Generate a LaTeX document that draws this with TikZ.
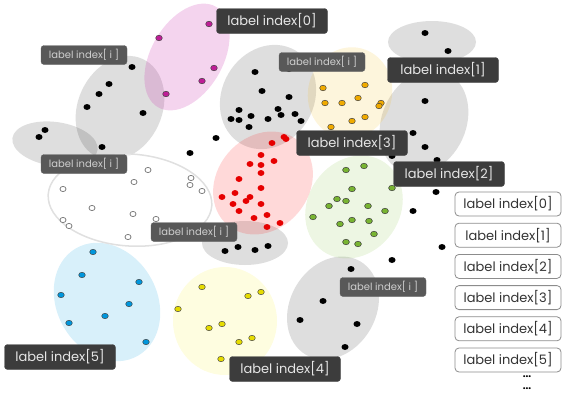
\documentclass[tikz,border=0pt]{standalone}
\usepackage{fontspec}
\setmainfont{Poppins}
\usetikzlibrary{positioning}

\definecolor{blobgray}{RGB}{0,0,0}
\definecolor{blobpink}{RGB}{200,40,170}
\definecolor{blobred}{RGB}{255,0,0}
\definecolor{bloborange}{RGB}{245,190,40}
\definecolor{blobgreen}{RGB}{140,200,80}
\definecolor{blobblue}{RGB}{60,180,230}
\definecolor{blobyellow}{RGB}{250,240,60}
\definecolor{dotpink}{RGB}{190,30,150}
\definecolor{dotred}{RGB}{230,0,0}
\definecolor{dotorange}{RGB}{240,170,0}
\definecolor{dotgreen}{RGB}{120,180,50}
\definecolor{dotblue}{RGB}{0,150,220}
\definecolor{dotyellow}{RGB}{230,220,0}
\definecolor{lbldark}{RGB}{60,60,60}
\definecolor{lblmid}{RGB}{88,88,88}
\definecolor{lbltext}{RGB}{230,230,230}

\begin{document}
\begin{tikzpicture}[x=1pt, y=-1pt,
    blob/.style={fill=#1, fill opacity=0.16},
    bdot/.style={fill=black},
    cdot/.style={fill=#1, draw=black!75, line width=0.5pt},
    odot/.style={fill=white, draw=black!55, line width=0.7pt},
    darklbl/.style={fill=lbldark, draw=black!70, text=lbltext, rounded corners=3pt,
        minimum width=111pt, minimum height=25pt, inner sep=0pt,
        font=\fontsize{13}{13}\selectfont},
    smalllbl/.style={fill=lblmid, draw=black!60, text=lbltext!90!black, rounded corners=3pt,
        minimum width=86pt, minimum height=19pt, inner sep=0pt,
        font=\fontsize{10}{10}\selectfont},
    leglbl/.style={fill=white, draw=black!45, line width=0.8pt, text=black!80, rounded corners=4pt,
        minimum width=106pt, minimum height=24pt, inner sep=0pt,
        font=\fontsize{13}{13}\selectfont}]
    \useasboundingbox (0,0) rectangle (563,394);

    % gray clusters
    \fill[blob=blobgray, fill opacity=0.13, rotate around={-25:(120,108)}] (120,108) ellipse [x radius=42pt, y radius=54pt];
    \fill[blob=blobgray, fill opacity=0.13, rotate around={-8:(55,144)}] (55,144) ellipse [x radius=43pt, y radius=22pt];
    \fill[blob=blobgray, fill opacity=0.13, rotate around={-30:(268,97)}] (268,97) ellipse [x radius=46pt, y radius=54pt];
    \fill[blob=blobgray, fill opacity=0.13] (432,42) ellipse [x radius=44pt, y radius=21pt];
    \fill[blob=blobgray, fill opacity=0.13, rotate around={-25:(424,122)}] (424,122) ellipse [x radius=42pt, y radius=54pt];
    \fill[blob=blobgray, fill opacity=0.13] (245,243) ellipse [x radius=43pt, y radius=22pt];
    \fill[blob=blobgray, fill opacity=0.13, rotate around={-30:(333,308)}] (333,308) ellipse [x radius=43pt, y radius=54pt];

    % coloured clusters
    \fill[blob=blobpink, fill opacity=0.2, rotate around={60:(187,57)}] (187,57) ellipse [x radius=58pt, y radius=36pt];
    \fill[blob=bloborange, rotate around={-15:(350,93)}] (350,93) ellipse [x radius=42pt, y radius=46pt];
    \fill[blob=blobred, fill opacity=0.15, rotate around={-40:(263,183)}] (263,183) ellipse [x radius=46pt, y radius=55pt];
    \fill[blob=blobgreen, rotate around={-35:(354,207)}] (354,207) ellipse [x radius=46pt, y radius=54pt];
    \fill[blob=blobblue, fill opacity=0.2, rotate around={30:(107,302)}] (107,302) ellipse [x radius=50pt, y radius=62pt];
    \fill[blob=blobyellow] (225,321) ellipse [x radius=52pt, y radius=54pt];
    % white cluster
    \draw[black!12, line width=1.5pt, fill=white, fill opacity=0.6, rotate around={-4:(130,200)}] (130,200) ellipse [x radius=82pt, y radius=46pt];

    % points
    \foreach \x/\y in {132/67,109/84,99/94,87/107,143/113,102/147,45/130,39/137,216/138,190/153,
        255/72,289/69,262/91,289/97,239/110,278/109,251/116,231/119,239/120,268/119,281/115,295/114,301/121,249/127,
        425/33,448/51,425/101,413/133,425/147,437/160,392/156,436/192,413/211,442/247,392/260,351/269,
        323/301,300/320,357/324,345/347,225/251,238/247,255/250,268/246}
        \fill[bdot] (\x,\y) ellipse [x radius=3.5pt, y radius=3pt];
    \foreach \x/\y in {209/24,159/38,214/68,202/81,166/94}
        \filldraw[cdot=dotpink] (\x,\y) ellipse [x radius=3.3pt, y radius=2.8pt];
    \foreach \x/\y in {323/88,365/85,325/103,342/103,358/98,381/103,379/106,352/121,365/117,331/127}
        \filldraw[cdot=dotorange] (\x,\y) ellipse [x radius=3.3pt, y radius=2.8pt];
    \foreach \x/\y in {284/137,286/139,272/143,261/155,274/161,250/164,261/165,261/173,239/179,261/188,235/193,
        222/197,250/197,246/201,233/204,261/204,239/211,267/215,254/218,280/223,267/227}
        \fill[dotred] (\x,\y) ellipse [x radius=3.4pt, y radius=3pt];
    \foreach \x/\y in {346/170,364/166,352/189,392/188,337/199,346/201,329/206,368/206,385/211,313/217,
        352/220,340/224,369/221,374/234,346/242,358/244}
        \filldraw[cdot=dotgreen] (\x,\y) ellipse [x radius=3.4pt, y radius=2.8pt];
    \foreach \x/\y in {148/170,63/189,134/182,191/178,190/185,202/191,92/208,133/214,156/219,63/220,69/226,128/237}
        \filldraw[odot] (\x,\y) ellipse [x radius=3pt, y radius=2.6pt];
    \foreach \x/\y in {93/252,82/275,139/282,61/295,129/304,105/316,69/323,146/342}
        \filldraw[cdot=dotblue] (\x,\y) ellipse [x radius=3.3pt, y radius=2.7pt];
    \foreach \x/\y in {202/287,248/296,261/292,178/309,222/324,209/328,252/338,239/342,221/359}
        \filldraw[cdot=dotyellow] (\x,\y) ellipse [x radius=3.3pt, y radius=2.7pt];

    % labels on the clusters
    \node[darklbl] (lbl0) at (272,21) {label index[0]};
    \node[darklbl] (lbl1) at (443,70) {label index[1]};
    \node[darklbl] (lbl2) at (449,174) {label index[2]};
    \node[darklbl] (lbl3) at (352,143) {label index[3]};
    \node[darklbl] (lbl4) at (285,369) {label index[4]};
    \node[darklbl] (lbl5) at (60,357) {label index[5]};
    \node[smalllbl] (lbli1) at (84,55) {label index[ i ]};
    \node[smalllbl] (lbli2) at (84,164) {label index[ i ]};
    \node[smalllbl] (lbli3) at (322,62) {label index[ i ]};
    \node[smalllbl] (lbli4) at (194,232) {label index[ i ]};
    \node[smalllbl] (lbli5) at (383,287) {label index[ i ]};

    % legend
    \node[leglbl] (leg0) at (508,204) {label index[0]};
    \node[leglbl, below=6.4pt of leg0] (leg1) {label index[1]};
    \node[leglbl, below=6.4pt of leg1] (leg2) {label index[2]};
    \node[leglbl, below=6.4pt of leg2] (leg3) {label index[3]};
    \node[leglbl, below=6.4pt of leg3] (leg4) {label index[4]};
    \node[leglbl, below=6.4pt of leg4] (leg5) {label index[5]};
    \node[font=\bfseries\fontsize{10}{10}\selectfont, inner sep=0pt] (more1) at (527,377) {...};
    \node[font=\bfseries\fontsize{10}{10}\selectfont, inner sep=0pt] (more2) at (527,389) {...};
\end{tikzpicture}
\end{document}
